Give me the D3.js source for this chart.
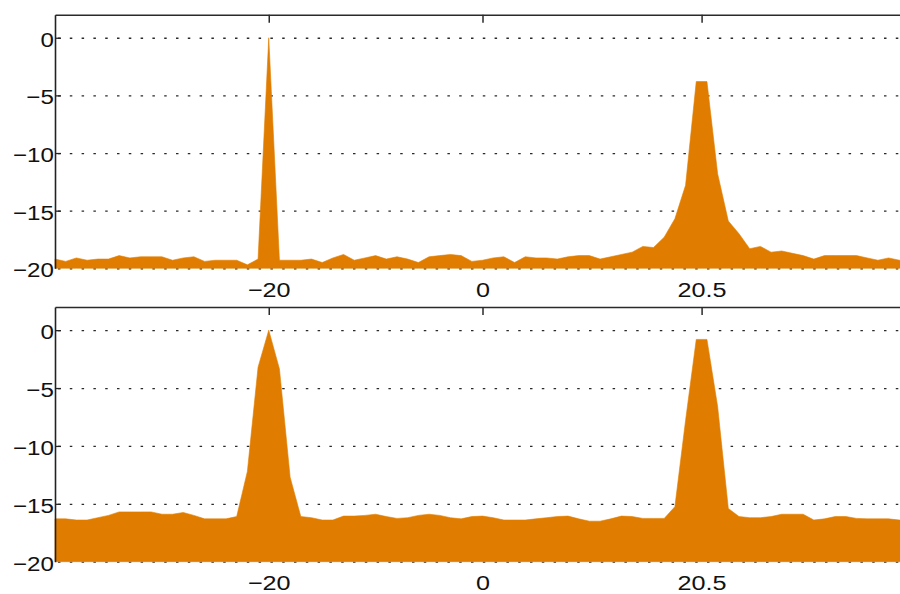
<!DOCTYPE html>
<html>
<head>
<meta charset="utf-8">
<script src="https://cdn.jsdelivr.net/npm/d3@7"></script>
<style>
  html, body { margin: 0; padding: 0; background: #fff; }
  svg { display: block; }
</style>
</head>
<body>
<svg id="chart" width="900" height="594"></svg>
<script>
// Frequency bins shared by both spectra
const bins = [-40,-39,-38,-37,-36,-35,-34,-33,-32,-31,-30,-29,-28,-27,-26,-25,-24,-23,-22,-21,
  -20,-19,-18,-17,-16,-15,-14,-13,-12,-11,-10,-9,-8,-7,-6,-5,-4,-3,-2,-1,
  0,1,2,3,4,5,6,7,8,9,10,11,12,13,14,15,16,17,18,19,
  20,21,22,23,24,25,26,27,28,29,30,31,32,33,34,35,36,37,38,39,40];

// Upper spectrum (dB)
const spectrumTop = [-19.2,-19.4,-19.1,-19.3,-19.2,-19.2,-18.9,-19.1,-19.0,-19.0,
  -19.0,-19.3,-19.1,-19.0,-19.4,-19.3,-19.3,-19.3,-19.7,-19.2,
  0,-19.3,-19.3,-19.3,-19.2,-19.5,-19.1,-18.8,-19.3,-19.1,
  -18.9,-19.2,-19.0,-19.2,-19.5,-19.0,-18.9,-18.8,-18.9,-19.4,
  -19.3,-19.1,-19.0,-19.5,-19.0,-19.1,-19.1,-19.2,-19.0,-18.9,
  -18.9,-19.2,-19.0,-18.8,-18.6,-18.1,-18.2,-17.3,-15.7,-12.8,
  -3.8,-3.8,-11.8,-15.9,-17.0,-18.3,-18.1,-18.6,-18.5,-18.7,
  -18.9,-19.2,-18.9,-18.9,-18.9,-18.9,-19.1,-19.3,-19.1,-19.3,-19.2];

// Lower spectrum (dB)
const spectrumBottom = [-16.3,-16.3,-16.4,-16.4,-16.2,-16.0,-15.7,-15.7,-15.7,-15.7,
  -15.9,-15.9,-15.75,-16.0,-16.3,-16.3,-16.3,-16.1,-12.2,-3.2,
  0,-3.35,-12.7,-16.1,-16.2,-16.4,-16.4,-16.06,-16.06,-16.0,
  -15.9,-16.1,-16.26,-16.2,-16.0,-15.9,-16.0,-16.2,-16.3,-16.1,
  -16.06,-16.2,-16.4,-16.4,-16.4,-16.3,-16.2,-16.1,-16.06,-16.3,
  -16.5,-16.5,-16.3,-16.06,-16.1,-16.26,-16.26,-16.26,-15.25,-7.8,
  -0.8,-0.8,-6.6,-15.4,-16.1,-16.2,-16.2,-16.1,-15.9,-15.9,
  -15.9,-16.4,-16.3,-16.1,-16.1,-16.26,-16.3,-16.3,-16.3,-16.4,-16.4];

const xTicks = [-20, 0, 20.5];
const xTickLabels = ["\u221220", "0", "20.5"];
const yTicks = [0, -5, -10, -15, -20];
const yTickLabels = ["0", "\u22125", "\u221210", "\u221215", "\u221220"];

const fillColor = "#e07d00";
const font = "'Liberation Sans', Arial, Helvetica, sans-serif";
const svg = d3.select("#chart");

function panel(values, top, bottom) {
  const left = 55, right = 910;
  const x = d3.scaleLinear().domain([-40, 40]).range([left, right]);
  const y = d3.scaleLinear().domain([-20, 2]).range([bottom, top]);
  const g = svg.append("g");

  // dotted horizontal grid
  const grid = g.append("g")
    .attr("transform", `translate(${left},0)`)
    .call(d3.axisLeft(y).tickValues(yTicks).tickSizeInner(-(right - left)).tickSizeOuter(0).tickFormat(""));
  grid.select(".domain").remove();
  grid.selectAll("line")
    .attr("stroke", "#2a2a2a")
    .attr("stroke-width", 1.3)
    .attr("stroke-dasharray", "2.5 9.3")
    .attr("stroke-dashoffset", -3);

  // y tick labels with short inward ticks
  const yAxis = g.append("g")
    .attr("transform", `translate(${left},0)`)
    .call(d3.axisLeft(y).tickValues(yTicks.slice(0, 4)).tickSizeInner(-6).tickSizeOuter(0).tickPadding(1)
      .tickFormat((d) => yTickLabels[yTicks.indexOf(d)]));
  yAxis.select(".domain").remove();
  yAxis.selectAll("line").attr("stroke", "#222").attr("stroke-width", 1.3);

  // -20 label sits at the bottom edge
  const yLow = g.append("g")
    .attr("transform", `translate(${left},0)`)
    .call(d3.axisLeft(y).tickValues([-20]).tickSize(0).tickPadding(1)
      .tickFormat((d) => yTickLabels[yTicks.indexOf(d)]));
  yLow.select(".domain").remove();

  g.selectAll(".tick text")
    .attr("font-family", font)
    .attr("font-size", 21)
    .attr("fill", "#111")
    .attr("dy", "0.4em")
    .attr("transform", "scale(1.15,1)");

  // filled spectrum
  const area = d3.area()
    .x((d, i) => x(bins[i]))
    .y0(y(-20))
    .y1((d) => y(d));
  g.append("path")
    .datum(values)
    .attr("d", area)
    .attr("fill", fillColor)
    .attr("stroke", fillColor)
    .attr("stroke-width", 0.6);

  // x tick labels under the plot
  const xLab = g.append("g")
    .attr("transform", `translate(0,${bottom})`)
    .call(d3.axisBottom(x).tickValues(xTicks).tickSize(0).tickPadding(13.5)
      .tickFormat((d) => xTickLabels[xTicks.indexOf(d)]));
  xLab.select(".domain").remove();
  xLab.selectAll("text")
    .attr("font-family", font)
    .attr("font-size", 21)
    .attr("fill", "#111")
    .attr("transform", "scale(1.2,1)");

  // top frame with tick marks
  const xTop = g.append("g")
    .attr("transform", `translate(0,${top})`)
    .call(d3.axisTop(x).tickValues(xTicks).tickSizeInner(-8).tickSizeOuter(0).tickFormat(""));
  xTop.select(".domain").attr("stroke", "#2a2a2a").attr("stroke-width", 1.6);
  xTop.selectAll("line").attr("stroke", "#2a2a2a").attr("stroke-width", 1.5);

  // left frame line
  const yLine = g.append("g")
    .attr("transform", `translate(${left},0)`)
    .call(d3.axisLeft(y).tickValues([]).tickSizeOuter(0));
  yLine.select(".domain").attr("stroke", "#222").attr("stroke-width", 1.6);
}

panel(spectrumTop, 14.7, 268.3);
panel(spectrumBottom, 307, 561.7);
</script>
</body>
</html>
